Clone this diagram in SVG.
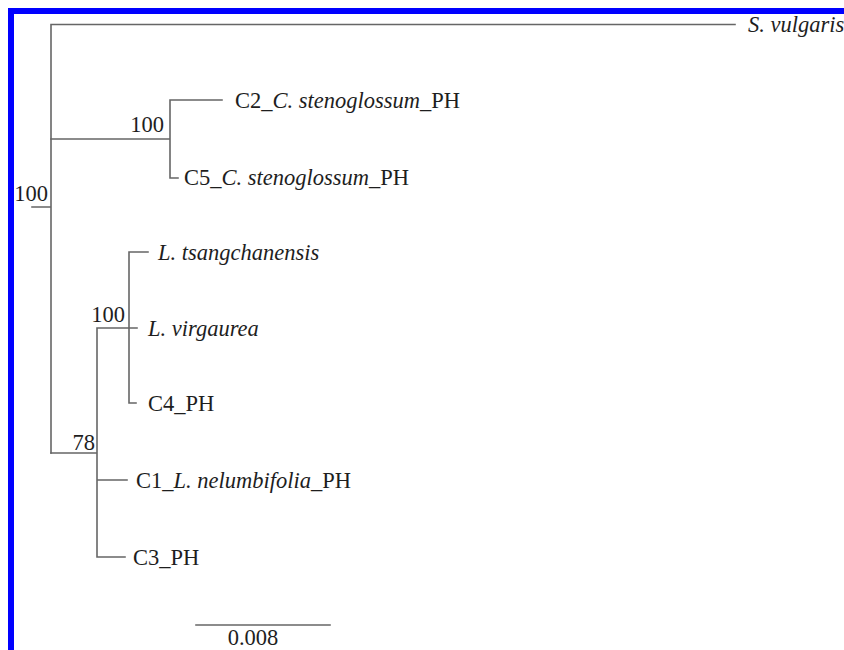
<svg xmlns="http://www.w3.org/2000/svg" width="844" height="650" viewBox="0 0 844 650">
<style>
.br{stroke:#666;stroke-width:1.6;fill:none;stroke-linecap:square}
text{font-family:"Liberation Serif","Times New Roman",serif;font-size:22.5px;fill:#1e1e1e}
.i{font-style:italic}
.sup{text-anchor:end}
</style>
<rect width="844" height="650" fill="#fff"/>
<g id="frame">
<rect x="8" y="8" width="836" height="6" fill="#0000ff"/>
<rect x="8" y="8" width="6" height="642" fill="#0000ff"/>
</g>
<g id="connectors" class="br">
<path d="M32 207H51M51 24.5V453M51 24.5H735"/>
<path d="M51 139H170M170 100V178M170 100H222M170 178H178"/>
<path d="M51 453H97M97 328V557M97 328H129M129 252V403M129 252H148M129 328H137M129 403H136M97 480H127M97 557H125"/>
<path d="M196 625H330"/>
</g>
<g id="leaf-svulgaris"><text x="748" y="32" class="i">S. vulgaris</text></g>
<g id="leaf-c2"><text x="235" y="108">C2_<tspan class="i">C. stenoglossum</tspan>_PH</text></g>
<g id="leaf-c5"><text x="184" y="185">C5_<tspan class="i">C. stenoglossum</tspan>_PH</text></g>
<g id="leaf-ltsang"><text x="158" y="260" class="i">L. tsangchanensis</text></g>
<g id="leaf-lvirg"><text x="148" y="336" class="i">L. virgaurea</text></g>
<g id="leaf-c4"><text x="148" y="411">C4_PH</text></g>
<g id="leaf-c1"><text x="136" y="488">C1_<tspan class="i">L. nelumbifolia</tspan>_PH</text></g>
<g id="leaf-c3"><text x="133" y="565">C3_PH</text></g>
<g id="node-root"><text x="48" y="201" class="sup">100</text></g>
<g id="node-c"><text x="164" y="132" class="sup">100</text></g>
<g id="node-l"><text x="125" y="322" class="sup">100</text></g>
<g id="node-78"><text x="95" y="450" class="sup">78</text></g>
<g id="scale"><text x="253" y="645" text-anchor="middle">0.008</text></g>
</svg>
